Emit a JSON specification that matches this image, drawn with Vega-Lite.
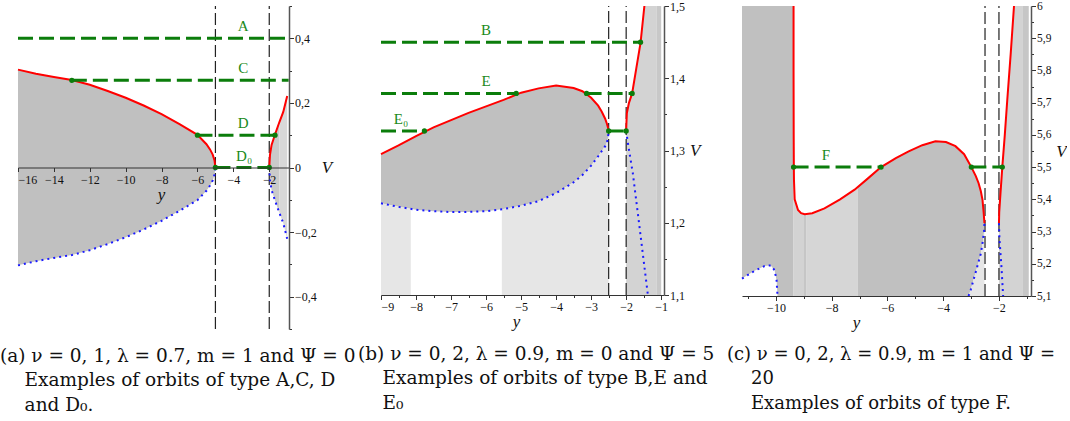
{
  "$schema": "https://vega.github.io/schema/vega-lite/v6.json",
  "padding": 0,
  "bounds": "flush",
  "spacing": 92,
  "config": {
    "view": {"stroke": null},
    "axis": {
      "grid": false,
      "format": "~g",
      "labelFont": "Liberation Serif",
      "labelFontSize": 12,
      "labelColor": "#111",
      "domainColor": "#333",
      "tickColor": "#333",
      "titleFont": "Liberation Serif",
      "titleFontSize": 17,
      "titleFontStyle": "italic",
      "titleFontWeight": "normal",
      "titleColor": "#111"
    },
    "title": {
      "orient": "bottom",
      "anchor": "start",
      "frame": "group",
      "font": "DejaVu Serif",
      "fontSize": 18.5,
      "fontWeight": "normal",
      "color": "#111",
      "lineHeight": 24.5
    }
  },
  "hconcat": [
    {
      "width": 271,
      "height": 323,
      "title": {
        "text": ["(a) ν = 0, 1, λ = 0.7, m = 1 and Ψ = 0", "\u200b\u2003\u2004Examples of orbits of type A,C, D", "\u200b\u2003\u2004and D₀."],
        "dx": -18,
        "offset": 17
      },
      "encoding": {
        "x": {
          "field": "y", "type": "quantitative",
          "scale": {"domain": [-16, -0.9], "nice": false, "zero": false},
          "axis": {
            "orient": "bottom", "offset": -161.5, "zindex": 2,
            "values": [-16, -14, -12, -10, -8, -6, -4, -2],
            "tickSize": 4, "labelPadding": 3,
            "title": "y", "titleX": 143, "titlePadding": 1
          }
        },
        "y": {
          "field": "V", "type": "quantitative",
          "scale": {"domain": [-0.5, 0.5], "nice": false, "zero": false},
          "axis": {
            "orient": "right", "zindex": 2,
            "values": [-0.5, -0.4, -0.3, -0.2, -0.1, 0, 0.1, 0.2, 0.3, 0.4, 0.5],
            "labelExpr": "abs(round(datum.value*10)) % 2 == 1 ? '' : replace(datum.label, '.', ',')",
            "tickSize": {"condition": {"test": "abs(round(datum.value*10)) % 2 == 1", "value": 2.5}, "value": 4.5},
            "labelPadding": 1,
            "domainColor": "#555", "domainWidth": 1.5,
            "title": "V", "titleAngle": 0, "titleAlign": "left", "titleBaseline": "middle", "titlePadding": 5
          }
        }
      },
      "layer": [
        {
          "data": {"values": [
            {"y": -16, "V": 0.303, "V2": -0.303}, {"y": -15, "V": 0.29, "V2": -0.29},
            {"y": -14, "V": 0.28, "V2": -0.28}, {"y": -13, "V": 0.271, "V2": -0.271},
            {"y": -12, "V": 0.256, "V2": -0.256}, {"y": -11, "V": 0.237, "V2": -0.237},
            {"y": -10, "V": 0.216, "V2": -0.216}, {"y": -9, "V": 0.192, "V2": -0.192},
            {"y": -8, "V": 0.165, "V2": -0.165}, {"y": -7, "V": 0.134, "V2": -0.134},
            {"y": -6, "V": 0.101, "V2": -0.101}, {"y": -5.5, "V": 0.072, "V2": -0.072},
            {"y": -5.3, "V": 0.056, "V2": -0.056}, {"y": -5.15, "V": 0.04, "V2": -0.04},
            {"y": -5.05, "V": 0.022, "V2": -0.022}, {"y": -5.0, "V": 0, "V2": 0}
          ]},
          "mark": {"type": "area", "color": "#c0c0c0"},
          "encoding": {"y2": {"field": "V2"}}
        },
        {
          "data": {"values": [
            {"y": -2, "V": 0, "V2": 0}, {"y": -1.96, "V": 0.039, "V2": -0.039},
            {"y": -1.87, "V": 0.07, "V2": -0.07}, {"y": -1.68, "V": 0.102, "V2": -0.102},
            {"y": -1.44, "V": 0.14, "V2": -0.14}
          ]},
          "mark": {"type": "area", "color": "#cacaca"},
          "encoding": {"y2": {"field": "V2"}}
        },
        {
          "data": {"values": [
            {"y": -1.44, "V": 0.14, "V2": -0.14}, {"y": -1.22, "V": 0.172, "V2": -0.172},
            {"y": -1.0, "V": 0.221, "V2": -0.221}
          ]},
          "mark": {"type": "area", "color": "#d8d8d8"},
          "encoding": {"y2": {"field": "V2"}}
        },
        {
          "data": {"values": [
            {"y": -5, "V": -0.5, "V2": 0.5}, {"y": -2, "V": -0.5, "V2": 0.5}
          ]},
          "mark": {"type": "rule", "color": "#222", "strokeWidth": 1.2, "strokeDash": [12, 4]},
          "encoding": {"y2": {"field": "V2"}}
        },
        {
          "data": {"values": [
            {"seg": "L", "y": -16, "V": 0.303}, {"seg": "L", "y": -15, "V": 0.29},
            {"seg": "L", "y": -14, "V": 0.28}, {"seg": "L", "y": -13, "V": 0.271},
            {"seg": "L", "y": -12, "V": 0.256}, {"seg": "L", "y": -11, "V": 0.237},
            {"seg": "L", "y": -10, "V": 0.216}, {"seg": "L", "y": -9, "V": 0.192},
            {"seg": "L", "y": -8, "V": 0.165}, {"seg": "L", "y": -7, "V": 0.134},
            {"seg": "L", "y": -6, "V": 0.101}, {"seg": "L", "y": -5.5, "V": 0.072},
            {"seg": "L", "y": -5.3, "V": 0.056}, {"seg": "L", "y": -5.15, "V": 0.04},
            {"seg": "L", "y": -5.05, "V": 0.022}, {"seg": "L", "y": -5.0, "V": 0},
            {"seg": "R", "y": -2, "V": 0}, {"seg": "R", "y": -1.96, "V": 0.039},
            {"seg": "R", "y": -1.87, "V": 0.07}, {"seg": "R", "y": -1.68, "V": 0.102},
            {"seg": "R", "y": -1.44, "V": 0.14}, {"seg": "R", "y": -1.22, "V": 0.172},
            {"seg": "R", "y": -1.0, "V": 0.221}
          ]},
          "mark": {"type": "line", "color": "#ff0000", "strokeWidth": 2},
          "encoding": {"detail": {"field": "seg"}}
        },
        {
          "data": {"values": [
            {"seg": "L", "y": -16, "V": -0.303}, {"seg": "L", "y": -15, "V": -0.29},
            {"seg": "L", "y": -14, "V": -0.28}, {"seg": "L", "y": -13, "V": -0.271},
            {"seg": "L", "y": -12, "V": -0.256}, {"seg": "L", "y": -11, "V": -0.237},
            {"seg": "L", "y": -10, "V": -0.216}, {"seg": "L", "y": -9, "V": -0.192},
            {"seg": "L", "y": -8, "V": -0.165}, {"seg": "L", "y": -7, "V": -0.134},
            {"seg": "L", "y": -6, "V": -0.101}, {"seg": "L", "y": -5.5, "V": -0.072},
            {"seg": "L", "y": -5.3, "V": -0.056}, {"seg": "L", "y": -5.15, "V": -0.04},
            {"seg": "L", "y": -5.05, "V": -0.022}, {"seg": "L", "y": -5.0, "V": 0},
            {"seg": "R", "y": -2, "V": 0}, {"seg": "R", "y": -1.96, "V": -0.039},
            {"seg": "R", "y": -1.87, "V": -0.07}, {"seg": "R", "y": -1.68, "V": -0.102},
            {"seg": "R", "y": -1.44, "V": -0.14}, {"seg": "R", "y": -1.22, "V": -0.172},
            {"seg": "R", "y": -1.0, "V": -0.221}
          ]},
          "mark": {"type": "line", "color": "#1a1aff", "strokeWidth": 2, "strokeDash": [2, 4]},
          "encoding": {"detail": {"field": "seg"}}
        },
        {
          "data": {"values": [
            {"seg": "A", "y": -16, "V": 0.4}, {"seg": "A", "y": -0.92, "V": 0.4},
            {"seg": "C", "y": -13, "V": 0.27}, {"seg": "C", "y": -0.92, "V": 0.27},
            {"seg": "D", "y": -6, "V": 0.1}, {"seg": "D", "y": -1.68, "V": 0.1},
            {"seg": "D0", "y": -5, "V": 0}, {"seg": "D0", "y": -2, "V": 0}
          ]},
          "mark": {"type": "line", "color": "#0b7d0b", "strokeWidth": 3, "strokeDash": [15, 6]},
          "encoding": {"detail": {"field": "seg"}}
        },
        {
          "data": {"values": [
            {"y": -13, "V": 0.27}, {"y": -6, "V": 0.1}, {"y": -1.68, "V": 0.1},
            {"y": -5, "V": 0}, {"y": -2, "V": 0}
          ]},
          "mark": {"type": "point", "filled": true, "opacity": 1, "color": "#0b7d0b", "size": 28}
        },
        {
          "data": {"values": [
            {"y": -3.45, "V": 0.4, "label": "A"}, {"y": -3.45, "V": 0.27, "label": "C"},
            {"y": -3.45, "V": 0.1, "label": "D"}, {"y": -3.4, "V": 0, "label": "D₀"}
          ]},
          "mark": {"type": "text", "color": "#1a8a1a", "font": "Liberation Serif", "fontSize": 15, "dy": -12},
          "encoding": {"text": {"field": "label"}}
        }
      ]
    },
    {
      "spacing": 78,
      "bounds": "flush",
      "hconcat": [
        {
          "width": 283,
          "height": 289,
          "title": {
            "text": ["(b) ν = 0, 2, λ = 0.9, m = 0 and Ψ = 5", "\u200b\u2003\u2004Examples of orbits of type B,E and", "\u200b\u2003\u2004E₀"],
            "dx": -23,
            "offset": 15
          },
          "encoding": {
            "x": {
              "field": "y", "type": "quantitative",
              "scale": {"domain": [-9, -0.92], "nice": false, "zero": false},
              "axis": {
                "orient": "bottom", "zindex": 2,
                "values": [-9, -8.5, -8, -7.5, -7, -6.5, -6, -5.5, -5, -4.5, -4, -3.5, -3, -2.5, -2, -1.5, -1],
                "labelExpr": "round(datum.value*2) % 2 != 0 ? '' : datum.label",
                "tickSize": {"condition": {"test": "round(datum.value*2) % 2 != 0", "value": 2.5}, "value": 4.5},
                "labelPadding": 2,
                "title": "y", "titleX": 135, "titlePadding": 1
              }
            },
            "y": {
              "field": "V", "type": "quantitative",
              "scale": {"domain": [1.1, 1.5], "nice": false, "zero": false},
              "axis": {
                "orient": "right", "zindex": 2,
                "values": [1.1, 1.15, 1.2, 1.25, 1.3, 1.35, 1.4, 1.45, 1.5],
                "labelExpr": "round(datum.value*100) % 10 != 0 ? '' : replace(datum.label, '.', ',')",
                "tickSize": {"condition": {"test": "round(datum.value*100) % 10 != 0", "value": 2.5}, "value": 4.5},
                "labelPadding": 1,
                "domainColor": "#555", "domainWidth": 1.5,
                "title": "V", "titleAngle": 0, "titleAlign": "left", "titleBaseline": "middle", "titlePadding": 5
              }
            }
          },
          "layer": [
            {
              "data": {"values": [
                {"y": -9, "V": 1.295, "V2": 1.227}, {"y": -8.5, "V": 1.307, "V2": 1.222},
                {"y": -8, "V": 1.32, "V2": 1.218}, {"y": -7.5, "V": 1.332, "V2": 1.216},
                {"y": -7, "V": 1.342, "V2": 1.2148}, {"y": -6.5, "V": 1.352, "V2": 1.215},
                {"y": -6, "V": 1.361, "V2": 1.216}, {"y": -5.5, "V": 1.37, "V2": 1.219},
                {"y": -5, "V": 1.38, "V2": 1.2235}, {"y": -4.5, "V": 1.386, "V2": 1.23},
                {"y": -4, "V": 1.39, "V2": 1.241}, {"y": -3.5, "V": 1.3865, "V2": 1.256},
                {"y": -3.25, "V": 1.382, "V2": 1.266}, {"y": -3, "V": 1.373, "V2": 1.279},
                {"y": -2.8, "V": 1.362, "V2": 1.292}, {"y": -2.7, "V": 1.354, "V2": 1.299},
                {"y": -2.6, "V": 1.344, "V2": 1.306}, {"y": -2.55, "V": 1.337, "V2": 1.311},
                {"y": -2.52, "V": 1.332, "V2": 1.317}, {"y": -2.5, "V": 1.327, "V2": 1.327}
              ]},
              "mark": {"type": "area", "color": "#c0c0c0"},
              "encoding": {"y2": {"field": "V2"}}
            },
            {
              "data": {"values": [
                {"y": -9, "V": 1.227, "V2": 1.1}, {"y": -8.5, "V": 1.222, "V2": 1.1},
                {"y": -8.15, "V": 1.219, "V2": 1.1}
              ]},
              "mark": {"type": "area", "color": "#e6e6e6"},
              "encoding": {"y2": {"field": "V2"}}
            },
            {
              "data": {"values": [
                {"y": -5.55, "V": 1.2187, "V2": 1.1}, {"y": -5, "V": 1.2235, "V2": 1.1},
                {"y": -4.5, "V": 1.23, "V2": 1.1}, {"y": -4, "V": 1.241, "V2": 1.1},
                {"y": -3.5, "V": 1.256, "V2": 1.1}, {"y": -3.25, "V": 1.266, "V2": 1.1},
                {"y": -3, "V": 1.279, "V2": 1.1}, {"y": -2.8, "V": 1.292, "V2": 1.1},
                {"y": -2.7, "V": 1.299, "V2": 1.1}, {"y": -2.6, "V": 1.306, "V2": 1.1},
                {"y": -2.55, "V": 1.311, "V2": 1.1}, {"y": -2.52, "V": 1.317, "V2": 1.1},
                {"y": -2.5, "V": 1.327, "V2": 1.1}
              ]},
              "mark": {"type": "area", "color": "#e6e6e6"},
              "encoding": {"y2": {"field": "V2"}}
            },
            {
              "data": {"values": [
                {"V": 1.1, "y": -2.0, "yR": -1.126}, {"V": 1.327, "y": -2.0, "yR": -1.126},
                {"V": 1.335, "y": -1.995, "yR": -1.126}, {"V": 1.352, "y": -1.98, "yR": -1.126},
                {"V": 1.366, "y": -1.92, "yR": -1.126}, {"V": 1.379, "y": -1.83, "yR": -1.126},
                {"V": 1.414, "y": -1.71, "yR": -1.126}, {"V": 1.449, "y": -1.59, "yR": -1.126},
                {"V": 1.5, "y": -1.48, "yR": -1.126}
              ]},
              "mark": {"type": "area", "orient": "horizontal", "color": "#d3d3d3"},
              "encoding": {"x2": {"field": "yR"}}
            },
            {
              "data": {"values": [{"y": -1.126, "yR": -1.0, "V": 1.1, "V2": 1.5}]},
              "mark": {"type": "rect", "color": "#c8c8c8"},
              "encoding": {"x2": {"field": "yR"}, "y2": {"field": "V2"}}
            },
            {
              "data": {"values": [
                {"y": -2.5, "V": 1.1, "V2": 1.5}, {"y": -2.0, "V": 1.1, "V2": 1.5}
              ]},
              "mark": {"type": "rule", "color": "#222", "strokeWidth": 1.2, "strokeDash": [12, 4]},
              "encoding": {"y2": {"field": "V2"}}
            },
            {
              "data": {"values": [
                {"seg": "L", "y": -9, "V": 1.295}, {"seg": "L", "y": -8.5, "V": 1.307},
                {"seg": "L", "y": -8, "V": 1.32}, {"seg": "L", "y": -7.5, "V": 1.332},
                {"seg": "L", "y": -7, "V": 1.342}, {"seg": "L", "y": -6.5, "V": 1.352},
                {"seg": "L", "y": -6, "V": 1.361}, {"seg": "L", "y": -5.5, "V": 1.37},
                {"seg": "L", "y": -5, "V": 1.38}, {"seg": "L", "y": -4.5, "V": 1.386},
                {"seg": "L", "y": -4, "V": 1.39}, {"seg": "L", "y": -3.5, "V": 1.3865},
                {"seg": "L", "y": -3.25, "V": 1.382}, {"seg": "L", "y": -3, "V": 1.373},
                {"seg": "L", "y": -2.8, "V": 1.362}, {"seg": "L", "y": -2.7, "V": 1.354},
                {"seg": "L", "y": -2.6, "V": 1.344}, {"seg": "L", "y": -2.55, "V": 1.337},
                {"seg": "L", "y": -2.52, "V": 1.332}, {"seg": "L", "y": -2.5, "V": 1.327},
                {"seg": "R", "y": -2.0, "V": 1.327}, {"seg": "R", "y": -1.995, "V": 1.335},
                {"seg": "R", "y": -1.98, "V": 1.352}, {"seg": "R", "y": -1.92, "V": 1.366},
                {"seg": "R", "y": -1.83, "V": 1.379}, {"seg": "R", "y": -1.71, "V": 1.414},
                {"seg": "R", "y": -1.59, "V": 1.449}, {"seg": "R", "y": -1.48, "V": 1.5}
              ]},
              "mark": {"type": "line", "color": "#ff0000", "strokeWidth": 2},
              "encoding": {"detail": {"field": "seg"}}
            },
            {
              "data": {"values": [
                {"seg": "L", "y": -9, "V": 1.227}, {"seg": "L", "y": -8.5, "V": 1.222},
                {"seg": "L", "y": -8, "V": 1.218}, {"seg": "L", "y": -7.5, "V": 1.216},
                {"seg": "L", "y": -7, "V": 1.2148}, {"seg": "L", "y": -6.5, "V": 1.215},
                {"seg": "L", "y": -6, "V": 1.216}, {"seg": "L", "y": -5.5, "V": 1.219},
                {"seg": "L", "y": -5, "V": 1.2235}, {"seg": "L", "y": -4.5, "V": 1.23},
                {"seg": "L", "y": -4, "V": 1.241}, {"seg": "L", "y": -3.5, "V": 1.256},
                {"seg": "L", "y": -3.25, "V": 1.266}, {"seg": "L", "y": -3, "V": 1.279},
                {"seg": "L", "y": -2.8, "V": 1.292}, {"seg": "L", "y": -2.7, "V": 1.299},
                {"seg": "L", "y": -2.6, "V": 1.306}, {"seg": "L", "y": -2.55, "V": 1.311},
                {"seg": "L", "y": -2.52, "V": 1.317}, {"seg": "L", "y": -2.5, "V": 1.327},
                {"seg": "R", "y": -2.0, "V": 1.327}, {"seg": "R", "y": -1.95, "V": 1.31},
                {"seg": "R", "y": -1.81, "V": 1.2685}, {"seg": "R", "y": -1.62, "V": 1.1945},
                {"seg": "R", "y": -1.38, "V": 1.1}
              ]},
              "mark": {"type": "line", "color": "#1a1aff", "strokeWidth": 2, "strokeDash": [2, 4]},
              "encoding": {"detail": {"field": "seg"}}
            },
            {
              "data": {"values": [
                {"seg": "B", "y": -9, "V": 1.45}, {"seg": "B", "y": -1.59, "V": 1.45},
                {"seg": "E1", "y": -9, "V": 1.379}, {"seg": "E1", "y": -5.14, "V": 1.379},
                {"seg": "E2", "y": -3.13, "V": 1.379}, {"seg": "E2", "y": -1.83, "V": 1.379},
                {"seg": "E01", "y": -9, "V": 1.327}, {"seg": "E01", "y": -7.76, "V": 1.327},
                {"seg": "E02", "y": -2.5, "V": 1.327}, {"seg": "E02", "y": -2.0, "V": 1.327}
              ]},
              "mark": {"type": "line", "color": "#0b7d0b", "strokeWidth": 3, "strokeDash": [15, 6]},
              "encoding": {"detail": {"field": "seg"}}
            },
            {
              "data": {"values": [
                {"y": -1.59, "V": 1.45}, {"y": -5.14, "V": 1.379}, {"y": -3.13, "V": 1.379},
                {"y": -1.83, "V": 1.379}, {"y": -7.76, "V": 1.327}, {"y": -2.5, "V": 1.327},
                {"y": -2.0, "V": 1.327}
              ]},
              "mark": {"type": "point", "filled": true, "opacity": 1, "color": "#0b7d0b", "size": 28}
            },
            {
              "data": {"values": [
                {"y": -6.0, "V": 1.45, "label": "B"}, {"y": -6.0, "V": 1.379, "label": "E"},
                {"y": -8.43, "V": 1.327, "label": "E₀"}
              ]},
              "mark": {"type": "text", "color": "#1a8a1a", "font": "Liberation Serif", "fontSize": 15, "dy": -12},
              "encoding": {"text": {"field": "label"}}
            }
          ]
        },
        {
          "width": 289,
          "height": 290,
          "title": {
            "text": ["(c) ν = 0, 2, λ = 0.9, m = 1 and Ψ =", "\u200b\u2003\u200420", "\u200b\u2003\u2004Examples of orbits of type F."],
            "dx": -15,
            "offset": 15,
            "fontSize": 18
          },
          "encoding": {
            "x": {
              "field": "y", "type": "quantitative",
              "scale": {"domain": [-11.22, -0.85], "nice": false, "zero": false},
              "axis": {
                "orient": "bottom", "zindex": 2,
                "values": [-11, -10, -9, -8, -7, -6, -5, -4, -3, -2, -1],
                "labelExpr": "abs(datum.value) % 2 == 1 ? '' : datum.label",
                "tickSize": {"condition": {"test": "abs(datum.value) % 2 == 1", "value": 2.5}, "value": 4.5},
                "labelPadding": 2,
                "title": "y", "titleX": 114, "titlePadding": 1
              }
            },
            "y": {
              "field": "V", "type": "quantitative",
              "scale": {"domain": [5.1, 6], "nice": false, "zero": false},
              "axis": {
                "orient": "right", "zindex": 2,
                "values": [5.1, 5.15, 5.2, 5.25, 5.3, 5.35, 5.4, 5.45, 5.5, 5.55, 5.6, 5.65, 5.7, 5.75, 5.8, 5.85, 5.9, 5.95, 6],
                "labelExpr": "round(datum.value*100) % 10 != 0 ? '' : replace(datum.label, '.', ',')",
                "tickSize": {"condition": {"test": "round(datum.value*100) % 10 != 0", "value": 2.5}, "value": 4.5},
                "labelPadding": 1,
                "labelFontSize": 11.5,
                "domainColor": "#555", "domainWidth": 1.5,
                "title": "V", "titleAngle": 0, "titleAlign": "center", "titleBaseline": "middle",
                "titleX": 30, "titleY": 145
              }
            }
          },
          "layer": [
            {
              "data": {"values": [
                {"y": -11.22, "V": 6, "V2": 5.154}, {"y": -10.77, "V": 6, "V2": 5.178},
                {"y": -10.41, "V": 6, "V2": 5.193}, {"y": -10.19, "V": 6, "V2": 5.195},
                {"y": -10.05, "V": 6, "V2": 5.18}, {"y": -9.98, "V": 6, "V2": 5.149},
                {"y": -9.95, "V": 6, "V2": 5.107}, {"y": -9.945, "V": 6, "V2": 5.1},
                {"y": -9.37, "V": 6, "V2": 5.1}
              ]},
              "mark": {"type": "area", "color": "#c0c0c0"},
              "encoding": {"y2": {"field": "V2"}}
            },
            {
              "data": {"values": [
                {"y": -9.37, "V": 5.46, "V2": 5.1}, {"y": -9.355, "V": 5.46, "V2": 5.1},
                {"y": -9.33, "V": 5.4, "V2": 5.1}, {"y": -9.21, "V": 5.367, "V2": 5.1},
                {"y": -9.1, "V": 5.357, "V2": 5.1}, {"y": -9.02, "V": 5.355, "V2": 5.1}
              ]},
              "mark": {"type": "area", "color": "#d3d3d3"},
              "encoding": {"y2": {"field": "V2"}}
            },
            {
              "data": {"values": [
                {"y": -9.02, "V": 5.355, "V2": 5.1}, {"y": -8.97, "V": 5.354, "V2": 5.1},
                {"y": -8.92, "V": 5.354, "V2": 5.1}
              ]},
              "mark": {"type": "area", "color": "#c6c6c6"},
              "encoding": {"y2": {"field": "V2"}}
            },
            {
              "data": {"values": [
                {"y": -8.92, "V": 5.354, "V2": 5.1}, {"y": -8.7, "V": 5.357, "V2": 5.1},
                {"y": -8.26, "V": 5.372, "V2": 5.1}, {"y": -7.7, "V": 5.4, "V2": 5.1},
                {"y": -7.18, "V": 5.43, "V2": 5.1}, {"y": -7.07, "V": 5.437, "V2": 5.1}
              ]},
              "mark": {"type": "area", "color": "#d6d6d6"},
              "encoding": {"y2": {"field": "V2"}}
            },
            {
              "data": {"values": [
                {"y": -7.07, "V": 5.437, "V2": 5.1}, {"y": -6.7, "V": 5.465, "V2": 5.1},
                {"y": -6.23, "V": 5.5, "V2": 5.1}, {"y": -5.7, "V": 5.528, "V2": 5.1},
                {"y": -5.24, "V": 5.549, "V2": 5.1}, {"y": -4.75, "V": 5.568, "V2": 5.1},
                {"y": -4.28, "V": 5.58, "V2": 5.1}, {"y": -3.9, "V": 5.578, "V2": 5.1},
                {"y": -3.56, "V": 5.565, "V2": 5.1}, {"y": -3.25, "V": 5.54, "V2": 5.1},
                {"y": -3.09, "V": 5.515, "V2": 5.1}, {"y": -3.01, "V": 5.502, "V2": 5.12},
                {"y": -2.83, "V": 5.472, "V2": 5.175}, {"y": -2.73, "V": 5.45, "V2": 5.205},
                {"y": -2.65, "V": 5.425, "V2": 5.232}, {"y": -2.59, "V": 5.3985, "V2": 5.262},
                {"y": -2.55, "V": 5.36, "V2": 5.285}, {"y": -2.53, "V": 5.34, "V2": 5.305},
                {"y": -2.52, "V": 5.326, "V2": 5.326}
              ]},
              "mark": {"type": "area", "color": "#c0c0c0"},
              "encoding": {"y2": {"field": "V2"}}
            },
            {
              "data": {"values": [
                {"y": -3.09, "V": 5.1, "V2": 5.1}, {"y": -3.01, "V": 5.12, "V2": 5.1},
                {"y": -2.83, "V": 5.175, "V2": 5.1}, {"y": -2.73, "V": 5.205, "V2": 5.1},
                {"y": -2.65, "V": 5.232, "V2": 5.1}, {"y": -2.59, "V": 5.262, "V2": 5.1},
                {"y": -2.55, "V": 5.285, "V2": 5.1}, {"y": -2.53, "V": 5.305, "V2": 5.1},
                {"y": -2.52, "V": 5.326, "V2": 5.1}
              ]},
              "mark": {"type": "area", "color": "#e6e6e6"},
              "encoding": {"y2": {"field": "V2"}}
            },
            {
              "data": {"values": [
                {"V": 5.1, "y": -2.0, "yR": -1.16}, {"V": 5.326, "y": -2.0, "yR": -1.16},
                {"V": 5.36, "y": -1.99, "yR": -1.16}, {"V": 5.4, "y": -1.96, "yR": -1.16},
                {"V": 5.5, "y": -1.88, "yR": -1.16}, {"V": 5.6, "y": -1.79, "yR": -1.16},
                {"V": 5.71, "y": -1.7, "yR": -1.16}, {"V": 5.85, "y": -1.58, "yR": -1.16},
                {"V": 6.0, "y": -1.46, "yR": -1.16}
              ]},
              "mark": {"type": "area", "orient": "horizontal", "color": "#d3d3d3"},
              "encoding": {"x2": {"field": "yR"}}
            },
            {
              "data": {"values": [{"y": -1.16, "yR": -0.93, "V": 5.1, "V2": 6}]},
              "mark": {"type": "rect", "color": "#c6c6c6"},
              "encoding": {"x2": {"field": "yR"}, "y2": {"field": "V2"}}
            },
            {
              "data": {"values": [
                {"y": -2.5, "V": 5.1, "V2": 6}, {"y": -2.0, "V": 5.1, "V2": 6}
              ]},
              "mark": {"type": "rule", "color": "#222", "strokeWidth": 1.2, "strokeDash": [12, 4]},
              "encoding": {"y2": {"field": "V2"}}
            },
            {
              "data": {"values": [
                {"seg": "L", "y": -9.37, "V": 6.0}, {"seg": "L", "y": -9.37, "V": 5.8},
                {"seg": "L", "y": -9.365, "V": 5.6}, {"seg": "L", "y": -9.36, "V": 5.5},
                {"seg": "L", "y": -9.355, "V": 5.46}, {"seg": "L", "y": -9.33, "V": 5.4},
                {"seg": "L", "y": -9.21, "V": 5.367}, {"seg": "L", "y": -9.1, "V": 5.357},
                {"seg": "L", "y": -8.97, "V": 5.354}, {"seg": "L", "y": -8.7, "V": 5.357},
                {"seg": "L", "y": -8.26, "V": 5.372}, {"seg": "L", "y": -7.7, "V": 5.4},
                {"seg": "L", "y": -7.18, "V": 5.43}, {"seg": "L", "y": -6.7, "V": 5.465},
                {"seg": "L", "y": -6.23, "V": 5.5}, {"seg": "L", "y": -5.7, "V": 5.528},
                {"seg": "L", "y": -5.24, "V": 5.549}, {"seg": "L", "y": -4.75, "V": 5.568},
                {"seg": "L", "y": -4.28, "V": 5.58}, {"seg": "L", "y": -3.9, "V": 5.578},
                {"seg": "L", "y": -3.56, "V": 5.565}, {"seg": "L", "y": -3.25, "V": 5.54},
                {"seg": "L", "y": -2.99, "V": 5.5}, {"seg": "L", "y": -2.83, "V": 5.472},
                {"seg": "L", "y": -2.73, "V": 5.45}, {"seg": "L", "y": -2.65, "V": 5.425},
                {"seg": "L", "y": -2.59, "V": 5.3985}, {"seg": "L", "y": -2.55, "V": 5.36},
                {"seg": "L", "y": -2.52, "V": 5.326},
                {"seg": "R", "y": -2.0, "V": 5.326}, {"seg": "R", "y": -1.99, "V": 5.36},
                {"seg": "R", "y": -1.96, "V": 5.4}, {"seg": "R", "y": -1.88, "V": 5.5},
                {"seg": "R", "y": -1.79, "V": 5.6}, {"seg": "R", "y": -1.7, "V": 5.71},
                {"seg": "R", "y": -1.58, "V": 5.85}, {"seg": "R", "y": -1.46, "V": 6.0}
              ]},
              "mark": {"type": "line", "color": "#ff0000", "strokeWidth": 2},
              "encoding": {"detail": {"field": "seg"}, "order": {"value": null}}
            },
            {
              "data": {"values": [
                {"seg": "BL", "y": -11.22, "V": 5.154}, {"seg": "BL", "y": -10.77, "V": 5.178},
                {"seg": "BL", "y": -10.41, "V": 5.193}, {"seg": "BL", "y": -10.19, "V": 5.195},
                {"seg": "BL", "y": -10.05, "V": 5.18}, {"seg": "BL", "y": -9.98, "V": 5.149},
                {"seg": "BL", "y": -9.95, "V": 5.107}, {"seg": "BL", "y": -9.945, "V": 5.1},
                {"seg": "M", "y": -3.09, "V": 5.1}, {"seg": "M", "y": -3.01, "V": 5.12},
                {"seg": "M", "y": -2.83, "V": 5.175}, {"seg": "M", "y": -2.65, "V": 5.232},
                {"seg": "M", "y": -2.58, "V": 5.27}, {"seg": "M", "y": -2.53, "V": 5.305},
                {"seg": "M", "y": -2.52, "V": 5.326},
                {"seg": "R", "y": -2.0, "V": 5.326}, {"seg": "R", "y": -1.98, "V": 5.274},
                {"seg": "R", "y": -1.91, "V": 5.19}, {"seg": "R", "y": -1.85, "V": 5.1}
              ]},
              "mark": {"type": "line", "color": "#1a1aff", "strokeWidth": 2, "strokeDash": [2, 4]},
              "encoding": {"detail": {"field": "seg"}, "order": {"value": null}}
            },
            {
              "data": {"values": [
                {"seg": "F1", "y": -9.37, "V": 5.5}, {"seg": "F1", "y": -6.23, "V": 5.5},
                {"seg": "F2", "y": -2.99, "V": 5.5}, {"seg": "F2", "y": -1.88, "V": 5.5}
              ]},
              "mark": {"type": "line", "color": "#0b7d0b", "strokeWidth": 3, "strokeDash": [15, 6]},
              "encoding": {"detail": {"field": "seg"}}
            },
            {
              "data": {"values": [
                {"y": -9.37, "V": 5.5}, {"y": -6.23, "V": 5.5}, {"y": -2.99, "V": 5.5}, {"y": -1.88, "V": 5.5}
              ]},
              "mark": {"type": "point", "filled": true, "opacity": 1, "color": "#0b7d0b", "size": 28}
            },
            {
              "data": {"values": [{"y": -8.21, "V": 5.5, "label": "F"}]},
              "mark": {"type": "text", "color": "#1a8a1a", "font": "Liberation Serif", "fontSize": 15, "dy": -12},
              "encoding": {"text": {"field": "label"}}
            }
          ]
        }
      ]
    }
  ]
}
